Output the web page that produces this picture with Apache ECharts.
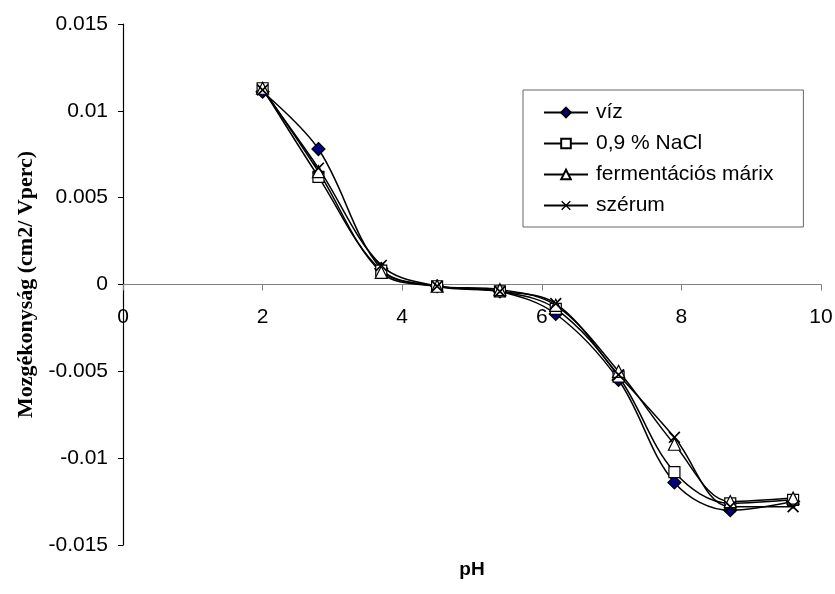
<!DOCTYPE html>
<html><head><meta charset="utf-8">
<script src="https://cdn.jsdelivr.net/npm/echarts@6/dist/echarts.min.js"></script>
<style>html,body{margin:0;padding:0;background:#fff}#c{width:835px;height:594px}</style>
</head><body><div id="c"></div>
<script>
const pH = [2, 2.8, 3.7, 4.5, 5.4, 6.2, 7.1, 7.9, 8.7, 9.6];
const viz = [0.0111, 0.0078, 0.0009, -0.0001, -0.0004, -0.0017, -0.0055, -0.0114, -0.0130, -0.0125];
const nacl = [0.0113, 0.0062, 0.0008, -0.0001, -0.0004, -0.0014, -0.0053, -0.0108, -0.0126, -0.0124];
const ferm = [0.0113, 0.0065, 0.0007, -0.0001, -0.0003, -0.0012, -0.0050, -0.0092, -0.0125, -0.0123];
const szerum = [0.0112, 0.0067, 0.0011, -0.0001, -0.0004, -0.0011, -0.0052, -0.0088, -0.0128, -0.0128];
const seriesNames = ['víz', '0,9 % NaCl', 'fermentációs márix', 'szérum'];
const xTicks = [0, 2, 4, 6, 8, 10];
const yTicks = [-0.015, -0.01, -0.005, 0, 0.005, 0.01, 0.015];

const X_PATH = 'path://M0,1 L1,0 L5,4 L9,0 L10,1 L6,5 L10,9 L9,10 L5,6 L1,10 L0,9 L4,5 Z';
const pairs = arr => pH.map((x, i) => [x, arr[i]]);
function mk(name, data, symbol, size, fill, border) {
  return {
    name, type: 'line', data: pairs(data), smooth: 0.35,
    symbol, symbolSize: size, showSymbol: true,
    lineStyle: { color: '#000', width: 1.5 },
    itemStyle: { color: fill, borderColor: border, borderWidth: border ? 1.2 : 0 },
    emphasis: { disabled: true }, z: 3
  };
}
const GRID_TOP = 24, GRID_BOTTOM = 49, H = 594;
const zeroY = GRID_TOP + (H - GRID_TOP - GRID_BOTTOM) / 2;
const chart = echarts.init(document.getElementById('c'), null, { renderer: 'canvas' });
chart.setOption({
  animation: false,
  backgroundColor: '#fff',
  grid: { left: 123, top: GRID_TOP, right: 14, bottom: GRID_BOTTOM, containLabel: false, outerBoundsMode: 'none' },
  legend: {
    show: true, orient: 'vertical', left: 523, top: 90, width: 277, height: 133,
    padding: [12, 30, 11, 20], itemGap: 10, itemWidth: 44, itemHeight: 12,
    borderColor: '#666', borderWidth: 1, backgroundColor: '#fff',
    textStyle: { fontFamily: 'Liberation Sans, Arial', fontSize: 21, lineHeight: 20, color: '#000', padding: [0, 0, 0, 3] },
    data: seriesNames.map(n => ({ name: n }))
  },
  xAxis: {
    type: 'value', min: 0, max: 10, interval: 2, position: 'bottom',
    offset: -(H - GRID_BOTTOM - zeroY),
    name: 'pH', nameLocation: 'middle', nameGap: 276,
    nameTextStyle: { fontFamily: 'Liberation Sans, Arial', fontWeight: 'bold', fontSize: 19, color: '#000' },
    axisLine: { onZero: false, lineStyle: { color: '#808080', width: 1.2 } },
    axisTick: { show: true, inside: false, length: 6, lineStyle: { color: '#808080' } },
    axisLabel: { margin: 22, fontFamily: 'Liberation Sans, Arial', fontSize: 21, color: '#000',
      formatter: v => xTicks.includes(v) ? String(v) : '' },
    splitLine: { show: false }
  },
  yAxis: {
    type: 'value', min: -0.015, max: 0.015, interval: 0.005,
    name: 'Mozgékonyság (cm2/ Vperc)', nameLocation: 'middle', nameGap: 82,
    nameTextStyle: { fontFamily: 'Liberation Serif, Times New Roman', fontWeight: 'bold', fontSize: 22, color: '#000' },
    axisLine: { show: true, lineStyle: { color: '#000', width: 1.2 } },
    axisTick: { show: true, inside: false, length: 5, lineStyle: { color: '#000' } },
    axisLabel: { margin: 15, fontFamily: 'Liberation Sans, Arial', fontSize: 21, color: '#000',
      formatter: v => { const t = yTicks.find(k => Math.abs(k - v) < 1e-9); return t === undefined ? '' : (t === 0 ? '0' : String(+t.toFixed(3))); } },
    splitLine: { show: false }
  },
  series: [
    mk(seriesNames[0], viz, 'diamond', 13, '#000080', '#000'),
    mk(seriesNames[1], nacl, 'rect', 11, '#fff', '#000'),
    mk(seriesNames[2], ferm, 'triangle', 12, '#fff', '#000'),
    mk(seriesNames[3], szerum, X_PATH, 12, '#000', null)
  ]
});
</script></body></html>
